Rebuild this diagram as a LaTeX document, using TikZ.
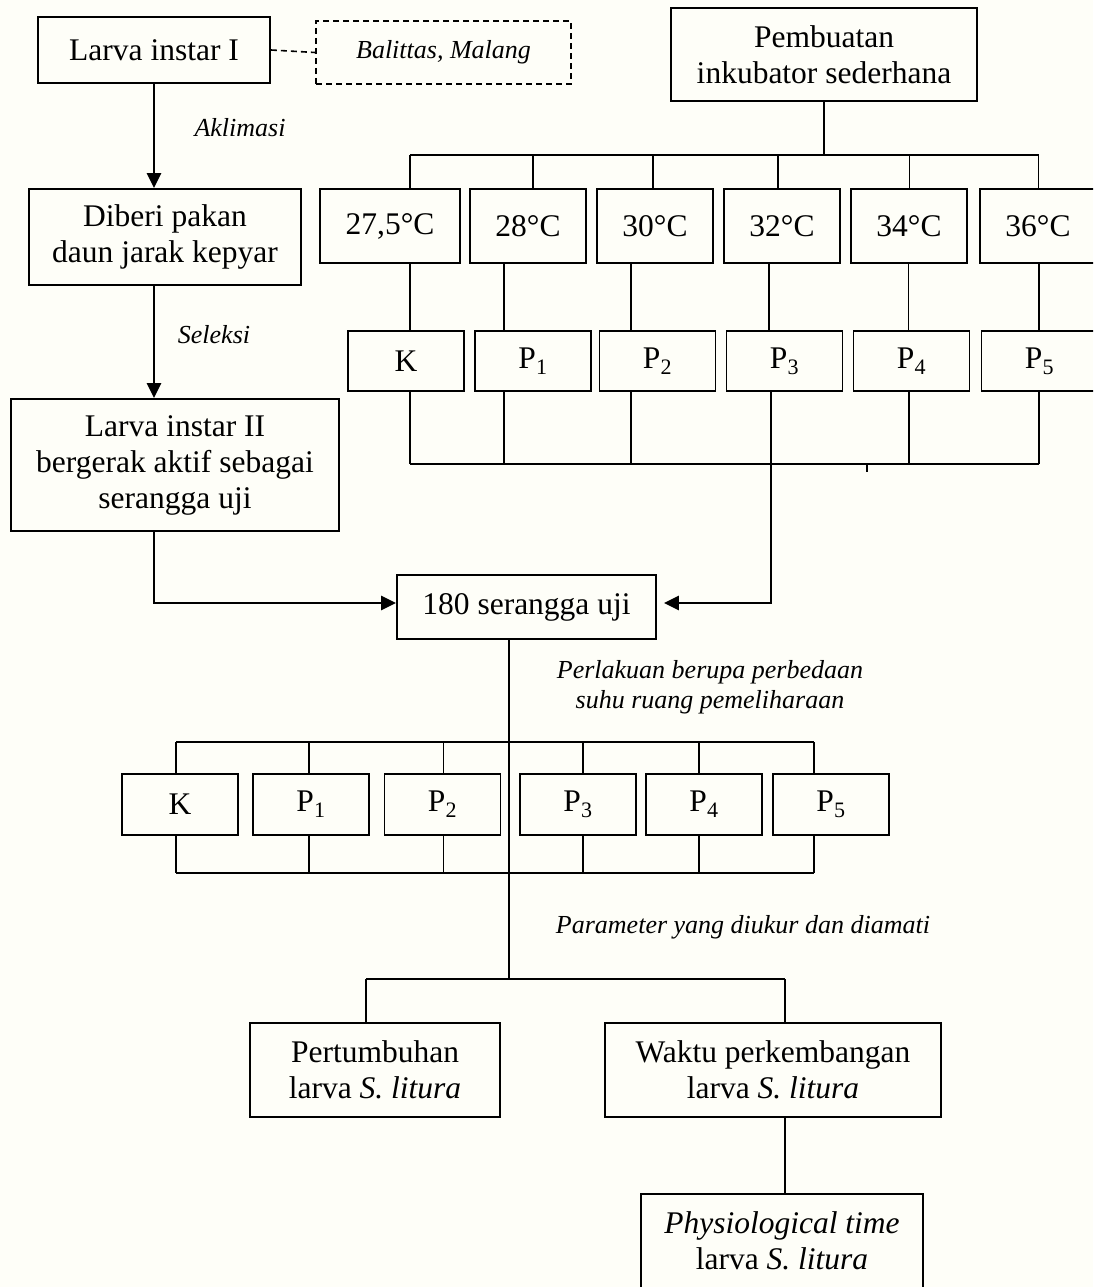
\documentclass[tikz,border=0pt]{standalone}
\usepackage{fontspec}
\setmainfont{Liberation Serif}
\usepackage{tikz}
\usetikzlibrary{arrows.meta}
\definecolor{PaperCream}{HTML}{FEFEF8}

\begin{document}
\begin{tikzpicture}[
      x=1pt, y=-1pt,
      every node/.style={align=center, font=\fontsize{31.5}{36}\selectfont},
      block/.style={draw, line width=1.8pt, inner sep=0pt},
      note/.style={font=\fontsize{26}{30}\selectfont\itshape},
      link/.style={line width=1.8pt},
      arrow/.style={line width=2.6pt, -{Triangle[length=15pt, width=14pt]}}
    ]
      \fill[PaperCream] (0,0) rectangle (1093,1287);
      \clip (0,0) rectangle (1093,1287);

      \node[block, line width=1.6pt, dash pattern=on 6pt off 4pt, minimum width=255pt, minimum height=63pt, note] (sumber) at (443.5,52.5) {Balittas, Malang};
      \node[block, minimum width=232pt, minimum height=66pt] (larva1) at (154,50) {Larva instar I};
      \node[block, minimum width=306pt, minimum height=93pt] (inkubator) at (824,54.5) {Pembuatan\\inkubator sederhana};
      \node[block, minimum width=272pt, minimum height=96pt] (pakan) at (165,237) {Diberi pakan\\daun jarak kepyar};
      \node[block, minimum width=328pt, minimum height=132pt] (larva2) at (175,465) {Larva instar II\\bergerak aktif sebagai\\serangga uji};
      \node[block, minimum width=259pt, minimum height=64pt] (uji) at (526.5,607) {180 serangga uji};

      % suhu inkubator
      \node[block, minimum width=140pt, minimum height=74pt] (t1) at (390,226) {27,5°C};
      \node[block, minimum width=116pt, minimum height=74pt] (t2) at (528,226) {28°C};
      \node[block, minimum width=116pt, minimum height=74pt] (t3) at (655,226) {30°C};
      \node[block, minimum width=116pt, minimum height=74pt] (t4) at (782,226) {32°C};
      \node[block, minimum width=116pt, minimum height=74pt] (t5) at (909,226) {34°C};
      \node[block, minimum width=116pt, minimum height=74pt] (t6) at (1038,226) {36°C};

      \foreach \i/\x/\lbl in {1/406/K, 2/533/P\textsubscript{1}, 3/657.5/P\textsubscript{2}, 4/784.5/P\textsubscript{3}, 5/911.5/P\textsubscript{4}, 6/1039.5/P\textsubscript{5}}
        \node[block, minimum width=116pt, minimum height=60pt] (pa\i) at (\x,361) {\lbl};

      \foreach \i/\x/\lbl in {1/180/K, 2/311/P\textsubscript{1}, 3/442.5/P\textsubscript{2}, 4/578/P\textsubscript{3}, 5/704/P\textsubscript{4}, 6/831/P\textsubscript{5}}
        \node[block, minimum width=116pt, minimum height=61pt] (qb\i) at (\x,804.5) {\lbl};

      \node[block, minimum width=250pt, minimum height=94pt] (pertumbuhan) at (375,1070) {Pertumbuhan\\larva \textit{S. litura}};
      \node[block, minimum width=336pt, minimum height=94pt] (waktu) at (773,1070) {Waktu perkembangan\\larva \textit{S. litura}};
      \node[block, minimum width=282pt, minimum height=94pt] (physio) at (782,1241) {\textit{Physiological time}\\larva \textit{S. litura}};

      % Labels
      \node[note] (aklimasi) at (240,128) {Aklimasi};
      \node[note] (seleksi) at (214,335) {Seleksi};
      \node[note] (perlakuan) at (710,687) {Perlakuan berupa perbedaan\\suhu ruang pemeliharaan};
      \node[note] (parameter) at (743,927) {Parameter yang diukur dan diamati};

      % alur kiri
      \draw[link, line width=1.6pt, dash pattern=on 6pt off 4pt] (larva1.east) -- (sumber.west);
      \draw[arrow] (larva1.south) -- (larva1.south |- pakan.north);
      \draw[arrow] (pakan.south -| larva1) -- (larva2.north -| larva1);
      \draw[arrow] (larva2.south -| larva1) |- ([yshift=4pt]uji.west);

      % pohon inkubator
      \coordinate (bus1L) at (410,155);
      \coordinate (bus1R) at (1038.5,155);
      \coordinate (bus2L) at (410,464);
      \coordinate (bus2R) at (1039,464);
      \draw[link] (inkubator.south) -- (inkubator.south |- bus1L);
      \draw[link] (bus1L) -- (bus1R);
      \draw[link] (bus2L) -- (bus2R);
      \draw[link] (867,0 |- bus2L) -- ++(0,8);
      \foreach \i/\a/\b/\c in {1/410/410/410, 2/533/504/504, 3/653/631/631, 4/778/769/771, 5/909.5/908.5/909, 6/1038.5/1039/1039} {
        \draw[link] (\a,0 |- bus1L) -- (\a,0 |- t\i.north);
        \draw[link] (\b,0 |- t\i.south) -- (\b,0 |- pa\i.north);
        \draw[link] (\c,0 |- pa\i.south) -- (\c,0 |- bus2L);
      }
      \draw[arrow, shorten >=7pt] (771,0 |- bus2L) |- ([yshift=4pt]uji.east);

      % pohon perlakuan
      \coordinate (fork) at (509,979);
      \coordinate (bus3L) at (176,742);
      \coordinate (bus3R) at (814,742);
      \coordinate (bus4L) at (176,873);
      \coordinate (bus4R) at (814,873);
      \draw[link] (uji.south -| fork) -- (fork);
      \draw[link] (bus3L) -- (bus3R);
      \draw[link] (bus4L) -- (bus4R);
      \foreach \i/\x in {1/176, 2/309, 3/443.5, 4/583, 5/699, 6/814} {
        \draw[link] (\x,0 |- bus3L) -- (\x,0 |- qb\i.north);
        \draw[link] (\x,0 |- qb\i.south) -- (\x,0 |- bus4L);
      }

      % parameter
      \coordinate (forkL) at (366,979);
      \coordinate (forkR) at (785,979);
      \draw[link] (forkL) -- (forkR);
      \draw[link] (forkL) -- (forkL |- pertumbuhan.north);
      \draw[link] (forkR) -- (forkR |- waktu.north);
      \draw[link] (forkR |- waktu.south) -- (forkR |- physio.north);

    \end{tikzpicture}
\end{document}
